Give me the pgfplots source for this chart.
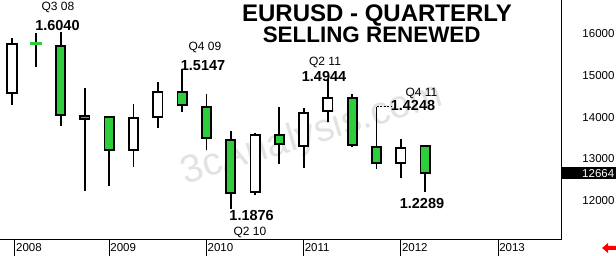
\documentclass[border=0pt]{standalone}
\usepackage{pgfplots}
\pgfplotsset{compat=1.18}
\usepackage{fontspec}
\setmainfont{Liberation Sans}
\definecolor{cgreen}{RGB}{45,205,60}
\definecolor{wm}{RGB}{226,226,226}

% candle: position, low, body low, body high, high, fill
\newcommand{\candle}[6]{%
\pgfmathsetmacro\xl{#1-0.19}\pgfmathsetmacro\xr{#1+0.19}%
\addplot[black, line width=1.8pt] coordinates {(#1,#2) (#1,#5)};
\addplot[draw=black, line width=1.8pt, fill=#6] coordinates {(\xl,#3) (\xr,#3) (\xr,#4) (\xl,#4)} -- cycle;
}

\begin{document}
\begin{tikzpicture}
\useasboundingbox (0,-16pt) rectangle (616pt,240pt);
\begin{axis}[
  at={(0,0)}, anchor=south west,
  scale only axis, width=561pt, height=240pt,
  xmin=-0.494, xmax=22.59, ymin=11067, ymax=16795,
  scaled y ticks=false, scaled x ticks=false,
  axis x line*=bottom, axis y line*=right,
  axis line style={-, line width=1pt, black},
  xtick={0.12,4,8,12,16,20},
  xticklabels={2008,2009,2010,2011,2012,2013},
  xtick style={line width=1pt, black},
  major tick length=16pt, tick align=outside,
  xticklabel style={anchor=north west, font=\fontsize{11.5}{13}\selectfont, inner sep=1pt, yshift=14pt},
  ytick={12000,13000,14000,15000,16000},
  yticklabels={12000,13000,14000,15000,16000},
  ytick style={draw=none},
  yticklabel style={anchor=east, font=\fontsize{11.5}{13}\selectfont, xshift=41pt},
  clip=false,
]
\node[rotate=17, text=wm, font=\fontsize{39}{39}\selectfont] at (axis cs:12.35,13578) {3cAnalysis.com};

\candle{0}{14289}{14568}{15745}{15881}{white}
\addplot[black, line width=1.8pt] coordinates {(1,15203) (1,16000)};
\addplot[draw=cgreen, line width=1.8pt, fill=cgreen] coordinates {(0.79,15745) (1.21,15745) (1.21,15770) (0.79,15770)} -- cycle;
\candle{2}{13788}{14050}{15704}{16040}{cgreen}
\candle{3}{12243}{13960}{14030}{14702}{cgreen}
\candle{4}{12363}{13215}{14010}{14026}{cgreen}
\candle{5}{12816}{13215}{13986}{14313}{white}
\candle{6}{13747}{13994}{14592}{14845}{white}
\candle{7}{14129}{14289}{14592}{15147}{cgreen}
\candle{8}{13205}{13500}{14248}{14555}{cgreen}
\candle{9}{11800}{12196}{13453}{13668}{cgreen}
\candle{10}{12141}{12205}{13573}{13613}{white}
\candle{11}{12880}{13358}{13573}{14248}{cgreen}
\candle{12}{12778}{13310}{14105}{14224}{white}
\candle{13}{13876}{14146}{14449}{14920}{white}
\candle{14}{13294}{13334}{14449}{14551}{cgreen}
\candle{15}{12761}{12912}{13294}{14248}{cgreen}
\candle{16}{12554}{12912}{13270}{13470}{white}
\candle{17}{12205}{12664}{13310}{13334}{cgreen}

\addplot[black, line width=1pt, dash pattern=on 2pt off 1.5pt] coordinates {(15,14248) (15.58,14248)};

\node[anchor=base, font=\fontsize{24}{24}\selectfont\bfseries] at (axis cs:15.02,16270) {EURUSD - QUARTERLY};
\node[anchor=base, font=\fontsize{22.4}{22.4}\selectfont\bfseries] at (axis cs:14.80,15776) {SELLING RENEWED};

\node[anchor=base, font=\fontsize{12}{12}\selectfont] at (axis cs:1.89,16556) {Q3 08};
\node[anchor=base, font=\fontsize{14.5}{14.5}\selectfont\bfseries] at (axis cs:1.87,16062) {1.6040};
\node[anchor=base, font=\fontsize{12}{12}\selectfont] at (axis cs:7.94,15601) {Q4 09};
\node[anchor=base, font=\fontsize{14.5}{14.5}\selectfont\bfseries] at (axis cs:7.86,15124) {1.5147};
\node[anchor=base, font=\fontsize{14.5}{14.5}\selectfont\bfseries] at (axis cs:9.86,11527) {1.1876};
\node[anchor=base, font=\fontsize{12}{12}\selectfont] at (axis cs:9.79,11186) {Q2 10};
\node[anchor=base, font=\fontsize{12}{12}\selectfont] at (axis cs:12.88,15243) {Q2 11};
\node[anchor=base, font=\fontsize{14.5}{14.5}\selectfont\bfseries] at (axis cs:12.84,14845) {1.4944};
\node[anchor=base, font=\fontsize{12}{12}\selectfont] at (axis cs:16.85,14487) {Q4 11};
\node[anchor=base, font=\fontsize{14.5}{14.5}\selectfont\bfseries] at (axis cs:16.50,14146) {1.4248};
\node[anchor=base, font=\fontsize{14.5}{14.5}\selectfont\bfseries] at (axis cs:16.87,11823) {1.2289};

\node[anchor=west, fill=black, text=white, text width=51pt, align=right, inner sep=2pt,
  minimum height=12pt, font=\fontsize{11.5}{12}\selectfont] at (axis cs:22.59,12664) {12664};
\end{axis}
\fill[red] (602pt,-8pt) -- (608pt,-3pt) -- (608pt,-6pt) -- (616pt,-6pt) -- (616pt,-10pt) -- (608pt,-10pt) -- (608pt,-13pt) -- cycle;
\end{tikzpicture}
\end{document}
